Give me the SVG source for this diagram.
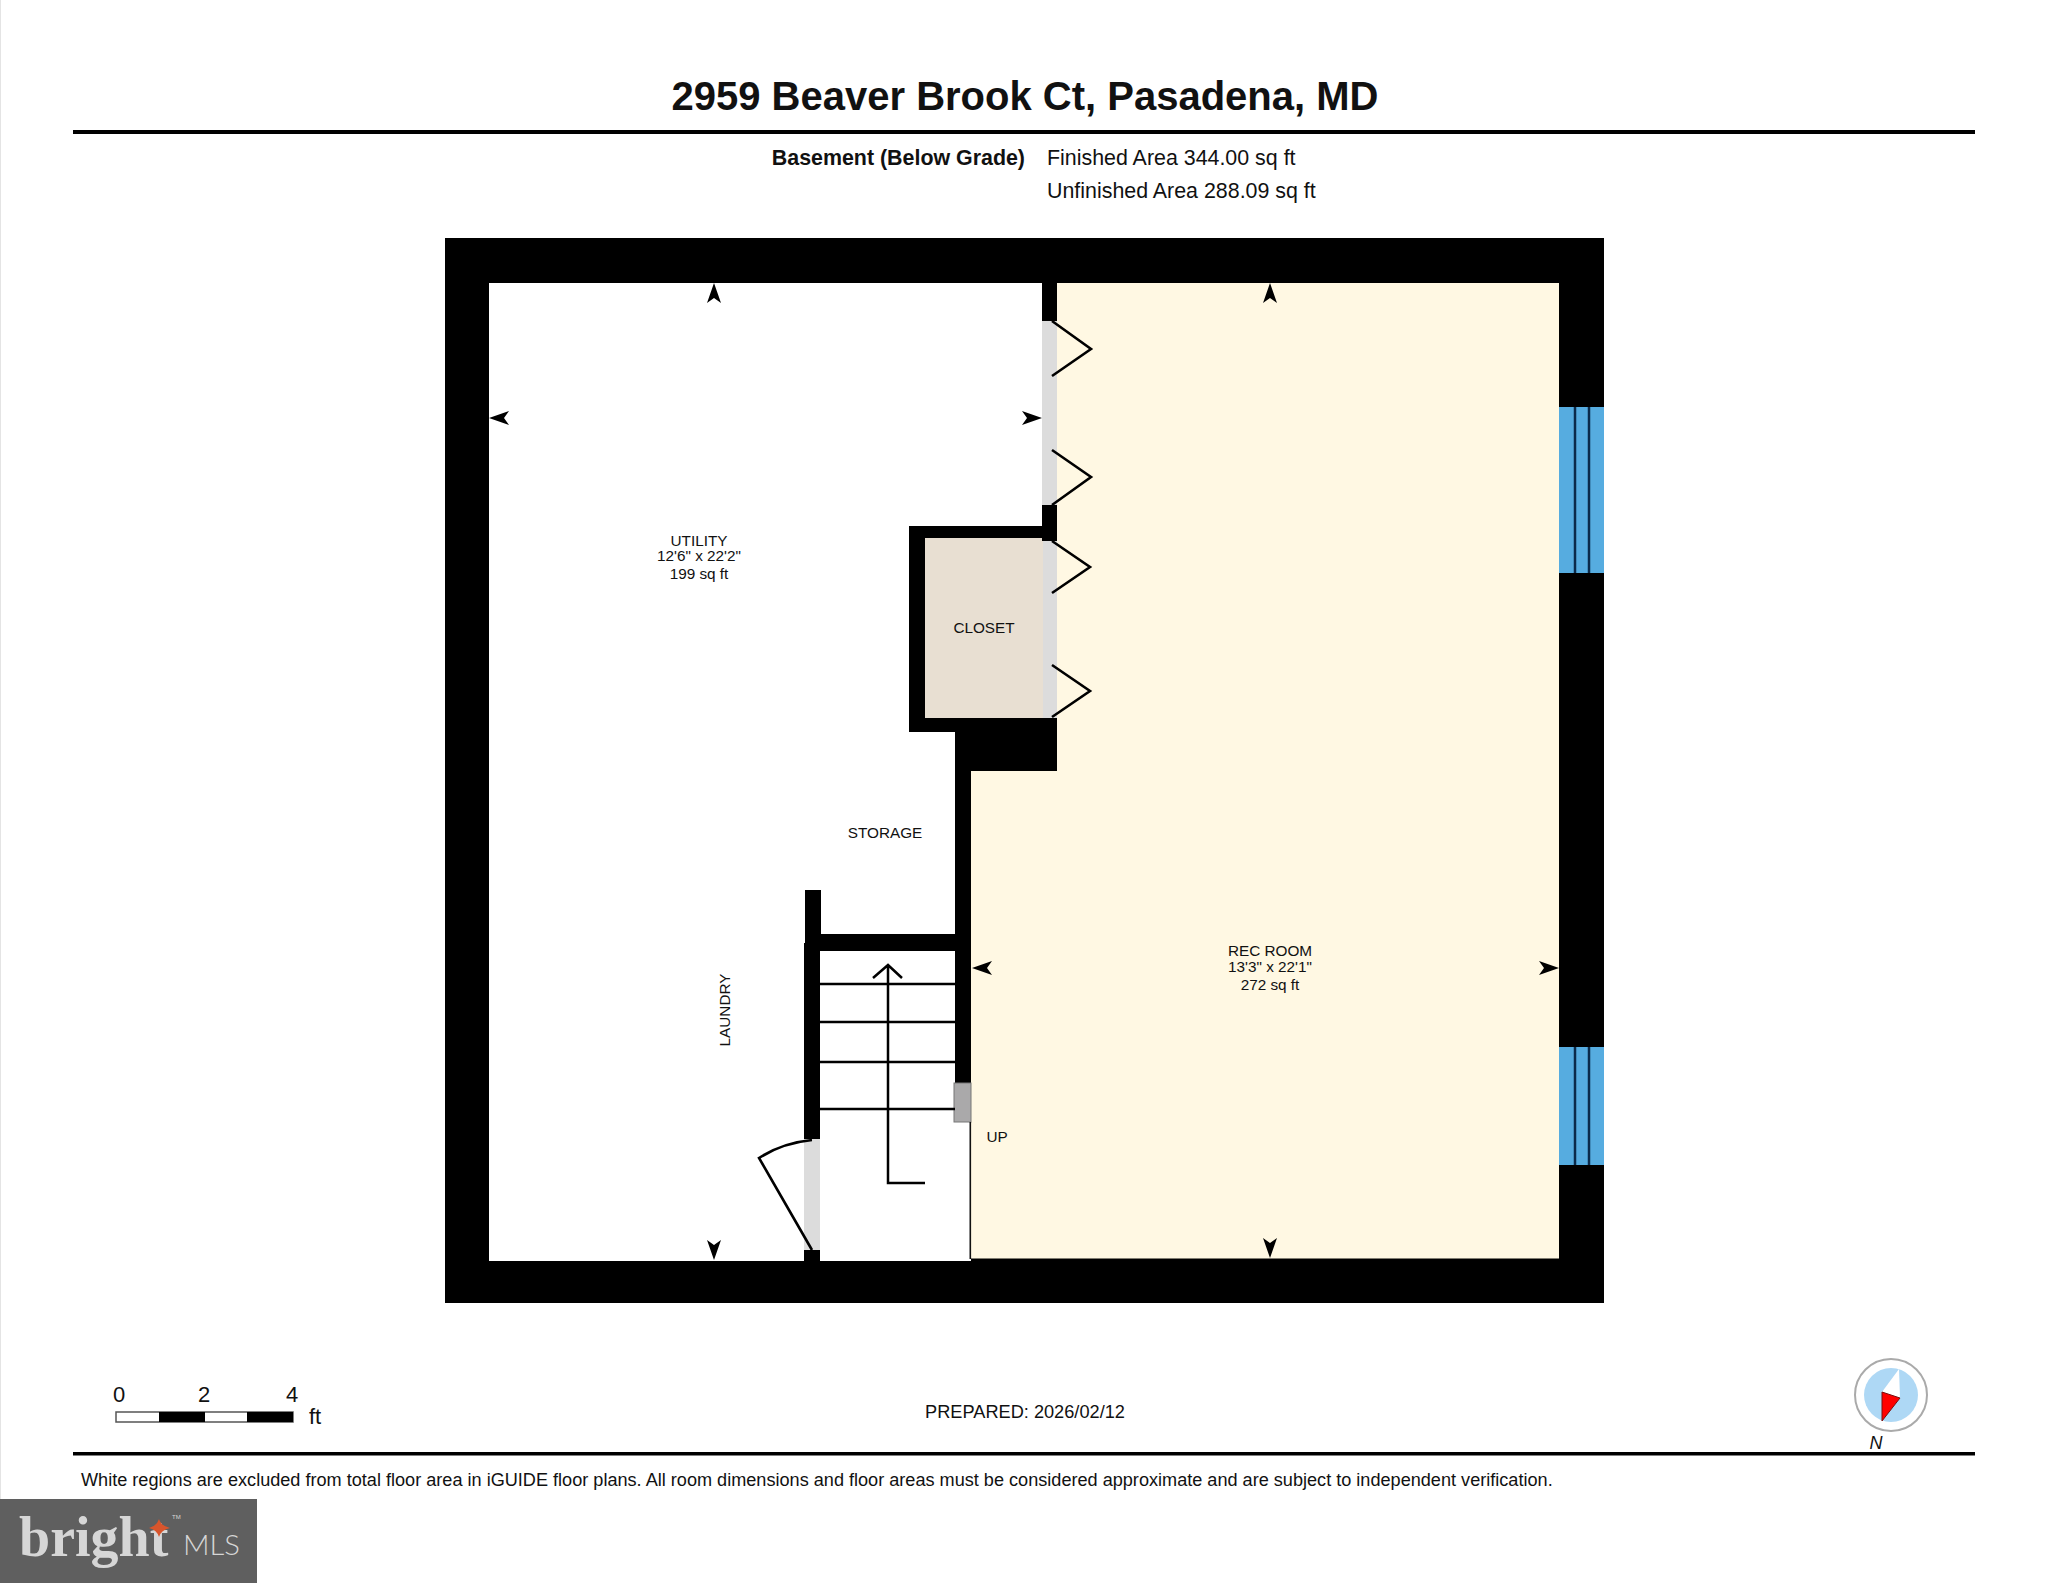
<svg xmlns="http://www.w3.org/2000/svg" width="2048" height="1583" viewBox="0 0 2048 1583">
<style>
text{font-family:"Liberation Sans",Arial,sans-serif;fill:#111}
.lb{font-size:15.3px;text-anchor:middle}
.hd{font-size:21.4px}
.w{fill:#000}
.ln{fill:none;stroke:#000;stroke-width:2.5}
.sw{fill:none;stroke:#000;stroke-width:2.6}
.dg{fill:#dcdcdc}
.gl{fill:#56ace0}
.gd{stroke:#0b2a4a;stroke-width:2.5}
</style>
<defs>
<path id="ah" d="M0 0L-20-7L-15 0L-20 7Z" fill="#000"/>
</defs>
<rect width="2048" height="1583" fill="#fff"/>
<rect x="0" y="0" width="1" height="1500" fill="#e4e4e4"/>
<g id="header">
<text x="1025" y="110" font-size="40" font-weight="700" text-anchor="middle">2959 Beaver Brook Ct, Pasadena, MD</text>
<rect x="73" y="130" width="1902" height="4" fill="#000"/>
<text class="hd" x="1025" y="165" font-weight="700" text-anchor="end">Basement (Below Grade)</text>
<text class="hd" x="1047" y="165">Finished Area 344.00 sq ft</text>
<text class="hd" x="1047" y="198">Unfinished Area 288.09 sq ft</text>
</g>
<g id="rooms">
<path id="rec-room" d="M1057 283H1559V1259H971V771H1057Z" fill="#fff8e3"/>
<rect id="closet" x="925" y="538" width="118" height="181" fill="#e8dfd2"/>
</g>
<g id="walls">
<path class="w" fill-rule="evenodd" d="M445 238H1604V1303H445ZM489 283V1261H1559V283Z"/>
<rect class="w" x="971" y="1258.500" width="588" height="3"/>
<rect class="w" x="1042" y="283" width="15" height="38"/>
<rect class="w" x="1042" y="505" width="15" height="36"/>
<path class="w" d="M909 526H1043V538H925V718H1057V771H971V1083H955V732H909Z"/>
<rect class="w" x="805" y="890" width="16" height="56"/>
<rect class="w" x="804" y="943" width="16" height="196"/>
<rect class="w" x="820" y="934" width="136" height="17"/>
<rect class="w" x="804" y="1250" width="16" height="11"/>
<rect x="954" y="1083" width="17" height="39" fill="#aaa9aa" stroke="#777" stroke-width="1"/>
<rect x="969.500" y="1122" width="1.600" height="137" fill="#111"/>
</g>
<g id="doors">
<rect class="dg" x="1042" y="321" width="15" height="184"/>
<rect class="dg" x="1043" y="541" width="14" height="177"/>
<rect class="dg" x="804" y="1139" width="16" height="111"/>
<path class="sw" d="M1052 321L1091 349L1052 376"/>
<path class="sw" d="M1052 450L1091 477L1052 505"/>
<path class="sw" d="M1052 541L1090 567L1052 593"/>
<path class="sw" d="M1052 665L1090 691L1052 717"/>
<path class="sw" d="M812 1250L759 1158Q782 1143 812 1140"/>
</g>
<g id="windows">
<rect class="gl" x="1559" y="407" width="45" height="166"/>
<rect class="gl" x="1559" y="1047" width="45" height="118"/>
<path class="gd" d="M1575 407V573M1589 407V573M1575 1047V1165M1589 1047V1165"/>
</g>
<g id="stairs">
<path class="ln" d="M820 984H955M820 1022H955M820 1062H955M820 1109H955"/>
<path class="ln" d="M925 1183H888V965M873 978L888 965L902 978"/>
</g>
<g id="dimension-arrows">
<use href="#ah" transform="translate(714 283) rotate(-90)"/>
<use href="#ah" transform="translate(714 1260) rotate(90)"/>
<use href="#ah" transform="translate(489 418) rotate(180)"/>
<use href="#ah" transform="translate(1042 418)"/>
<use href="#ah" transform="translate(1270 283) rotate(-90)"/>
<use href="#ah" transform="translate(1270 1258) rotate(90)"/>
<use href="#ah" transform="translate(972 968) rotate(180)"/>
<use href="#ah" transform="translate(1559 968)"/>
</g>
<g id="labels">
<text class="lb" x="699" y="546">UTILITY</text>
<text class="lb" x="699" y="561">12'6" x 22'2"</text>
<text class="lb" x="699" y="579">199 sq ft</text>
<text class="lb" x="984" y="633">CLOSET</text>
<text class="lb" x="885" y="838">STORAGE</text>
<text class="lb" transform="translate(730 1010) rotate(-90)">LAUNDRY</text>
<text class="lb" x="997" y="1142">UP</text>
<text class="lb" x="1270" y="956">REC ROOM</text>
<text class="lb" x="1270" y="972">13'3" x 22'1"</text>
<text class="lb" x="1270" y="990">272 sq ft</text>
</g>
<g id="scale">
<rect x="116" y="1412" width="177" height="10" fill="#fff" stroke="#555" stroke-width="1.500"/>
<rect x="159" y="1412" width="46" height="10" fill="#000"/>
<rect x="247" y="1412" width="46" height="10" fill="#000"/>
<text x="119" y="1402" font-size="22" text-anchor="middle">0</text>
<text x="204" y="1402" font-size="22" text-anchor="middle">2</text>
<text x="292" y="1402" font-size="22" text-anchor="middle">4</text>
<text x="309" y="1424" font-size="22">ft</text>
</g>
<text x="1025" y="1418" font-size="18.200" text-anchor="middle">PREPARED: 2026/02/12</text>
<g id="compass">
<circle cx="1891" cy="1395" r="36" fill="#fff" stroke="#aaa" stroke-width="2"/>
<circle cx="1891" cy="1395" r="27" fill="#aed8f5"/>
<path d="M1899 1369L1882 1392L1900 1398Z" fill="#fff"/>
<path d="M1882 1392L1900 1398L1882 1421Z" fill="#f00" stroke="#7a1010" stroke-width="1"/>
<text x="1876" y="1449" font-size="18" font-style="italic" text-anchor="middle">N</text>
</g>
<rect x="73" y="1452" width="1902" height="3.500" fill="#000"/>
<text x="81" y="1486" font-size="18.130">White regions are excluded from total floor area in iGUIDE floor plans. All room dimensions and floor areas must be considered approximate and are subject to independent verification.</text>
<g id="logo">
<rect x="0" y="1499" width="257" height="84" fill="#5f5f5f"/>
<text x="19" y="1556" font-size="56" font-weight="700" style="font-family:'Liberation Serif',serif;fill:#d6d6d6">bright</text>
<text x="183" y="1555" font-size="27" font-weight="300" style="font-family:Lato,sans-serif;fill:#d6d6d6" textLength="57" lengthAdjust="spacingAndGlyphs">MLS</text>
<text x="172" y="1519" font-size="6" style="fill:#d6d6d6">TM</text>
<path d="M159 1519Q161 1526 170 1528Q161 1530 159 1537Q157 1530 149 1528Q157 1526 159 1519Z" fill="#d8552c"/>
</g>
</svg>
